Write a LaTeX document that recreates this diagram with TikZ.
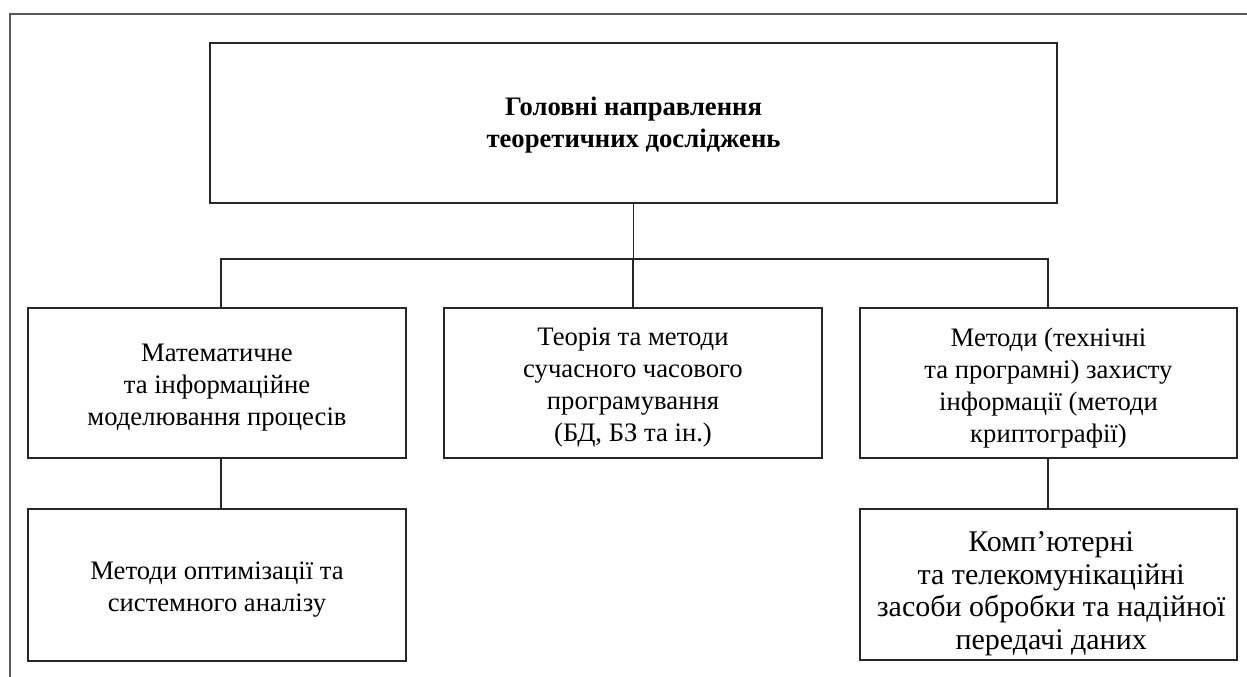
\documentclass[tikz,border=0pt]{standalone}
\usepackage{fontspec}
\setmainfont{Liberation Serif}
\begin{document}
\begin{tikzpicture}[x=0.75pt,y=-0.75pt,
  box/.style={draw=black!85,line width=0.9pt,inner sep=0pt},
  txt/.style={align=center,inner sep=0pt,font=\fontsize{20}{24}\selectfont},
  link/.style={draw=black!85,line width=0.9pt},
  frame/.style={draw=black!65,line width=1.4pt}]
\useasboundingbox (0,0) rectangle (1247,677);
\draw[frame] (10,677) -- (10,14) -- (1247,14);
\node[box,minimum width=635.25pt,minimum height=120pt] (top) at (633.5,123) {};
\node[txt,font=\fontsize{20}{23.5}\selectfont\bfseries] (topt) at ([yshift=-1.5pt]top.center)
  {Головні направлення\\теоретичних досліджень};
\node[box,minimum width=283.5pt,minimum height=112.5pt] (lm) at (217,383) {};
\node[txt] (lmt) at ([yshift=-3.75pt]lm.center)
  {Математичне\\та інформаційне\\моделювання процесів};
\node[box,minimum width=283.5pt,minimum height=112.5pt] (cm) at (633,383) {};
\node[txt] (cmt) at ([yshift=-3.75pt]cm.center)
  {Теорія та методи\\сучасного часового\\програмування\\(БД, БЗ та ін.)};
\node[box,minimum width=282.75pt,minimum height=112.5pt] (rm) at (1048.5,383) {};
\node[txt] (rmt) at ([yshift=-3.75pt]rm.center)
  {Методи (технічні\\та програмні) захисту\\інформації (методи\\криптографії)};
\node[box,minimum width=283.5pt,minimum height=114pt] (lb) at (217,585) {};
\node[txt] (lbt) at ([yshift=-3.75pt]lb.center)
  {Методи оптимізації та\\системного аналізу};
\node[box,minimum width=282.75pt,minimum height=113.25pt] (rb) at (1048.5,584.5) {};
\node[txt,font=\fontsize{22.5}{24.5}\selectfont] (rbt) at ([xshift=2pt,yshift=-7pt]rb.center)
  {Комп’ютерні\\та телекомунікаційні\\засоби обробки та надійної\\передачі даних};
\coordinate (busL) at (221,259);
\coordinate (busR) at (1048,259);
\draw[link] (top.south) -- (top.south |- busL);
\draw[link] (busL |- lm.north) -- (busL) -- (busR) -- (busR |- rm.north);
\draw[link] (cm.north) -- (cm.north |- busL);
\draw[link] (busL |- lm.south) -- (busL |- lb.north);
\draw[link] (busR |- rm.south) -- (busR |- rb.north);
\end{tikzpicture}
\end{document}
